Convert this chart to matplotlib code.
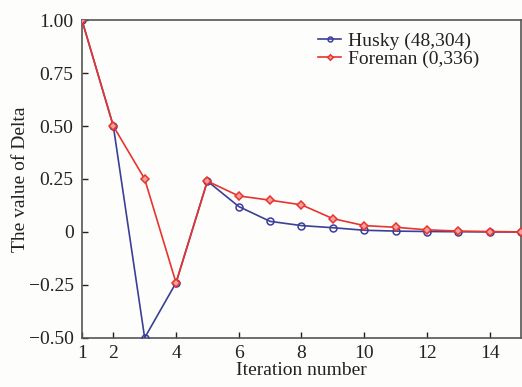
import matplotlib
matplotlib.use("Agg")
import matplotlib.pyplot as plt
from matplotlib.ticker import FixedLocator, FixedFormatter

iterations = list(range(1, 16))
husky = [1.0, 0.5, -0.5, -0.24, 0.24, 0.12, 0.05, 0.03, 0.02, 0.008, 0.004, 0.002, 0.001, 0.0, 0.0]
foreman = [1.0, 0.5, 0.25, -0.24, 0.24, 0.17, 0.15, 0.128, 0.063, 0.03, 0.022, 0.01, 0.004, 0.002, 0.0]
husky_label = "Husky (48,304)"
foreman_label = "Foreman (0,336)"
xticks = [1, 2, 4, 6, 8, 10, 12, 14]
yticks = [-0.5, -0.25, 0, 0.25, 0.5, 0.75, 1.0]
ytick_labels = ["\u22120.50", "\u22120.25", "0", "0.25", "0.50", "0.75", "1.00"]

plt.rcParams['font.family'] = ['Liberation Serif', 'DejaVu Serif']

fig = plt.figure(figsize=(5.22, 3.87), dpi=100)
fig.patch.set_facecolor('#fdfdfb')
ax = fig.add_axes([0.157, 0.127, 0.841, 0.821])
ax.set_facecolor('#fdfdfb')

blue = '#3b3f98'
red = '#e8342e'
ax.plot(iterations, husky, color=blue, lw=1.2, marker='o', ms=5,
        mfc='none', mec=blue, mew=1.1, label=husky_label, zorder=3)
ax.plot(iterations, foreman, color=red, lw=1.2, marker='D', ms=4,
        mfc='#f5a09c', mec=red, mew=1.1, label=foreman_label, zorder=4)

ax.set_xlim(1, 15)
ax.set_ylim(-0.5, 1.0)
ax.xaxis.set_major_locator(FixedLocator(xticks))
ax.yaxis.set_major_locator(FixedLocator(yticks))
ax.yaxis.set_major_formatter(FixedFormatter(ytick_labels))
ax.tick_params(direction='in', length=4, width=1, labelsize=14, colors='#222222')
ax.tick_params(axis='y', pad=6)
ax.tick_params(axis='x', pad=5)
for s in ax.spines.values():
    s.set_color('#555555')
    s.set_linewidth(1.2)

ax.set_xlabel("Iteration number", fontsize=14, labelpad=0, color='#222222')
ax.set_ylabel("The value of Delta", fontsize=14, labelpad=0, color='#222222')

leg = ax.legend(loc='upper left', bbox_to_anchor=(0.52, 0.985), frameon=False,
                fontsize=14, handlelength=1.2, handletextpad=0.35,
                labelspacing=0.0, borderaxespad=0.0, markerscale=0.7)
for t in leg.get_texts():
    t.set_color('#222222')

fig.savefig("out.png", dpi=100, facecolor=fig.get_facecolor())
